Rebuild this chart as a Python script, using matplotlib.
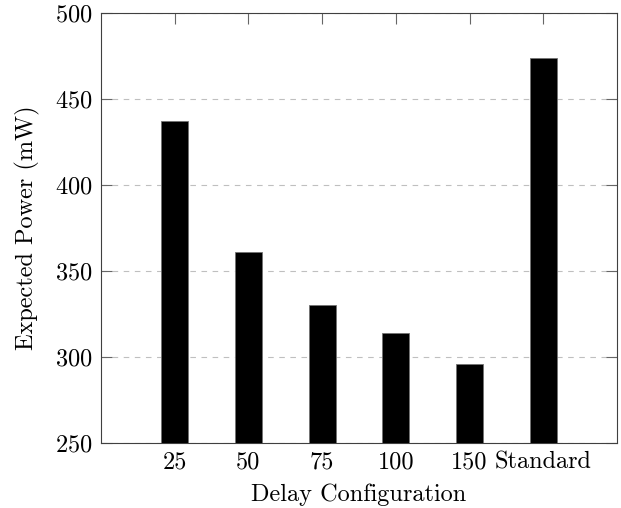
import numpy as np
import matplotlib.pyplot as plt

plt.rcParams['font.family'] = 'cmr10'
plt.rcParams['mathtext.fontset'] = 'cm'
plt.rcParams['axes.formatter.use_mathtext'] = True

configs = ['25', '50', '75', '100', '150', 'Standard']
power = [437.4, 361.2, 330.4, 313.7, 296.1, 473.8]

fig = plt.figure(figsize=(6.21, 5.08), dpi=100)
ax = fig.add_axes([0.1626, 0.128, 0.831, 0.8458])

x = np.arange(len(configs))
ax.bar(x, power, width=0.37, color='black', edgecolor='0.45', linewidth=0.6, zorder=3)

ax.set_xlim(-1, 6)
ax.set_ylim(250, 500)
ax.set_xticks(x)
ax.set_xticklabels(configs)
ax.set_yticks([250, 300, 350, 400, 450, 500])

ax.yaxis.grid(True, linestyle=(0, (5, 5)), color='0.75', linewidth=0.8, zorder=0)
ax.tick_params(direction='in', length=8, width=0.8, color='0.4',
               top=True, right=True, labelsize=17.5, pad=6)
for s in ax.spines.values():
    s.set_linewidth(0.8)
    s.set_color('0.25')

ax.set_xlabel('Delay Configuration', fontsize=17.5, labelpad=7)
ax.set_ylabel('Expected Power (mW)', fontsize=17.5, labelpad=11)

plt.savefig('out.png', dpi=100)
